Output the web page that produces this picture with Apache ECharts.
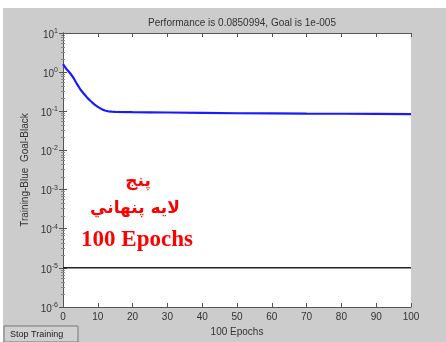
<!DOCTYPE html>
<html>
<head>
<meta charset="utf-8">
<script src="https://cdn.jsdelivr.net/npm/echarts@6/dist/echarts.min.js"></script>
<style>
  html, body { margin: 0; padding: 0; background: #fff; }
  #chart { width: 446px; height: 342px; }
</style>
</head>
<body>
<div id="chart"></div>
<script>
// training record
const epochs = [0, 1, 2, 3, 4, 5, 6, 7, 8, 9, 10, 11, 12, 13, 14, 15, 20, 25, 30, 40, 50, 60, 70, 80, 90, 100];
const performance = [1.6, 1.2, 0.95, 0.72, 0.5, 0.36, 0.28, 0.22, 0.18, 0.15, 0.13, 0.115, 0.105, 0.1, 0.098, 0.097,
  0.095, 0.094, 0.093, 0.091, 0.089, 0.088, 0.087, 0.0865, 0.086, 0.0851];
const goal = 1e-5;
const xTicks = [0, 10, 20, 30, 40, 50, 60, 70, 80, 90, 100];
const titleText = 'Performance is 0.0850994, Goal is 1e-005';
const yName = 'Training-Blue  Goal-Black';
const xName = '100 Epochs';
const noteLines = ['پنج', 'لايه پنهاني', '100 Epochs'];

const chart = echarts.init(document.getElementById('chart'));

const axisColor = '#555';
const labelFont = { color: '#333', fontSize: 10, fontFamily: 'Liberation Sans, Arial, sans-serif' };

const option = {
  animation: false,
  backgroundColor: '#fff',
  title: {
    text: titleText,
    left: 237, top: 13, textAlign: 'center',
    textStyle: { fontSize: 10, fontWeight: 'normal', color: '#333', fontFamily: 'Liberation Sans, Arial, sans-serif' }
  },
  graphic: [
    { type: 'rect', z: -10, shape: { x: 3, y: 8, width: 443, height: 334 }, style: { fill: '#cccccc' } },
    // stop training button
    { type: 'rect', z: 10, shape: { x: 4, y: 326, width: 74, height: 16 },
      style: { fill: '#d0d0d0', stroke: '#777', lineWidth: 1 } },
    { type: 'text', z: 11, left: 10, top: 330,
      style: { text: 'Stop Training', fontSize: 9, fill: '#222', fontFamily: 'Liberation Sans, Arial, sans-serif' } },
    // red note
    { type: 'text', z: 20, x: 138, y: 182,
      style: { text: noteLines[0], fontSize: 17, fontWeight: 'bold', fill: '#ff0000', align: 'center', verticalAlign: 'middle', fontFamily: 'DejaVu Sans, sans-serif' } },
    { type: 'text', z: 20, x: 135, y: 209,
      style: { text: noteLines[1], fontSize: 17, fontWeight: 'bold', fill: '#ff0000', align: 'center', verticalAlign: 'middle', fontFamily: 'DejaVu Sans, sans-serif' } },
    { type: 'text', z: 20, x: 137, y: 240,
      style: { text: noteLines[2], fontSize: 23, fontWeight: 'bold', fill: '#ff0000', align: 'center', verticalAlign: 'middle', fontFamily: 'Liberation Serif, Times New Roman, serif' } }
  ],
  grid: {
    left: 63, right: 35, top: 33, bottom: 35,
    show: true, backgroundColor: '#fff', borderWidth: 0
  },
  xAxis: [{
    type: 'value', min: 0, max: 100, interval: 10,
    name: xName, nameLocation: 'middle', nameGap: 17,
    nameTextStyle: labelFont,
    axisLine: { show: true, lineStyle: { color: axisColor } },
    axisTick: { inside: true, length: 4, lineStyle: { color: axisColor } },
    axisLabel: Object.assign({ margin: 5, customValues: xTicks }, labelFont),
    splitLine: { show: false }
  }, {
    type: 'value', min: 0, max: 100, interval: 10, position: 'top',
    axisLine: { show: true, lineStyle: { color: axisColor } },
    axisTick: { inside: true, length: 4, lineStyle: { color: axisColor } },
    axisLabel: { show: false },
    splitLine: { show: false }
  }],
  yAxis: [{
    type: 'log', logBase: 10, min: 1e-6, max: 10,
    name: yName, nameLocation: 'middle', nameGap: 32, nameRotate: 90,
    nameTextStyle: labelFont,
    axisLine: { show: true, lineStyle: { color: axisColor } },
    axisTick: { inside: true, length: 4, lineStyle: { color: axisColor } },
    minorTick: { show: true, splitNumber: 8, length: 2, lineStyle: { color: '#888' } },
    axisLabel: {
      margin: 5,
      formatter: v => '{b|10}{s|' + Math.round(Math.log10(v)) + '}',
      rich: {
        b: { fontSize: 10, color: '#333', fontFamily: 'Liberation Sans, Arial, sans-serif', padding: [4, 0, 0, 0] },
        s: { fontSize: 7, color: '#333', fontFamily: 'Liberation Sans, Arial, sans-serif', padding: [0, 0, 4, 0] }
      }
    },
    splitLine: { show: false }
  }, {
    type: 'log', logBase: 10, min: 1e-6, max: 10, position: 'right',
    axisLine: { show: true, lineStyle: { color: axisColor } },
    axisTick: { inside: true, length: 4, lineStyle: { color: axisColor } },
    minorTick: { show: true, splitNumber: 8, length: 2, lineStyle: { color: '#888' } },
    axisLabel: { show: false },
    splitLine: { show: false }
  }],
  series: [{
    type: 'line',
    data: epochs.map((e, i) => [e, performance[i]]),
    showSymbol: false,
    lineStyle: { color: '#1a1aff', width: 2.2 },
    itemStyle: { color: '#1a1aff' }
  }, {
    type: 'line',
    data: [[0, goal], [100, goal]],
    showSymbol: false,
    lineStyle: { color: '#222', width: 1.5 },
    itemStyle: { color: '#222' }
  }]
};

chart.setOption(option);
</script>
</body>
</html>
